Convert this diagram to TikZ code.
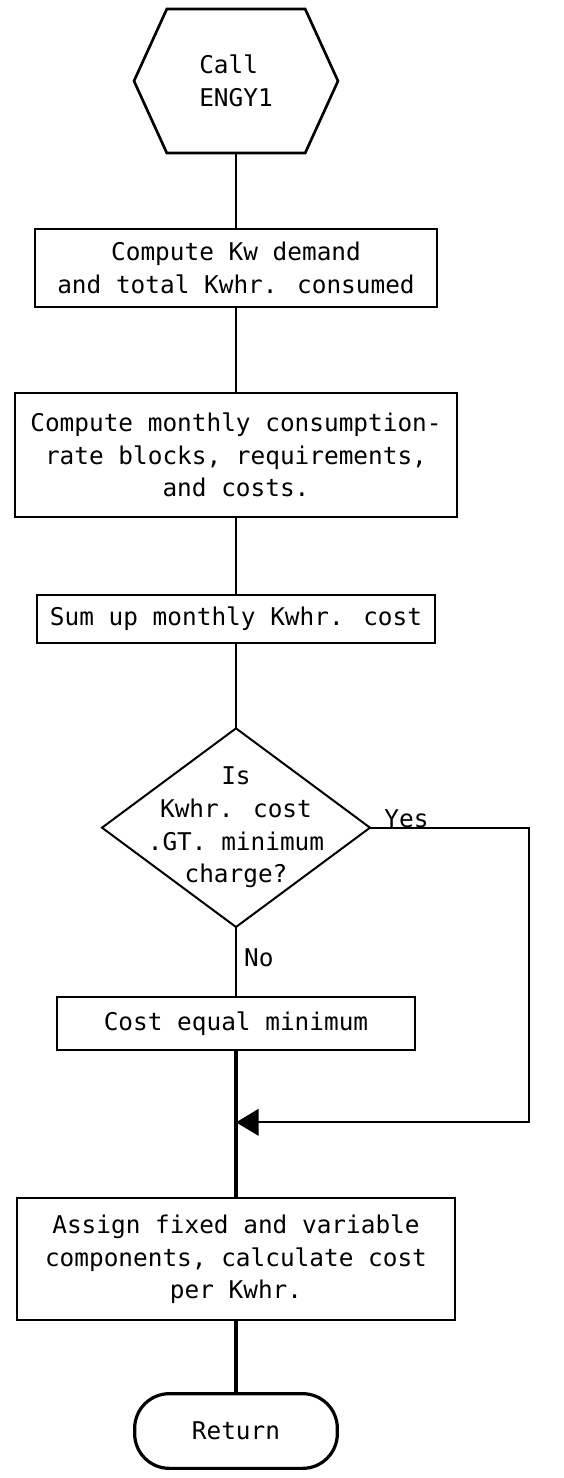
\documentclass[tikz,border=0pt]{standalone}
\usepackage{fontspec}
\newfontfamily\chartfont{DejaVu Sans Mono}
\usepackage{tikz}
\usetikzlibrary{arrows.meta,positioning,shapes.geometric,shapes.symbols}

\begin{document}
\begin{tikzpicture}[
  chart/.style={font=\chartfont\fontsize{18.3pt}{24.5pt}\selectfont},
  process/.style={chart, draw, line width=1.5pt, outer sep=0pt, align=center, inner sep=4pt},
  entry/.style={chart, draw, line width=2pt, outer sep=0pt, signal, signal to=west and east, signal pointer angle=131, minimum width=153pt, minimum height=108pt, align=left},
  decision/.style={chart, draw, line width=1.5pt, outer sep=0pt, diamond, aspect=1.35, inner sep=-30pt, minimum width=201pt, minimum height=149pt, align=center},
  terminal/.style={chart, draw, line width=2.4pt, outer sep=0pt, rounded corners=26pt, minimum width=152pt, minimum height=56pt},
  flow/.style={line width=1.5pt},
  trunk/.style={line width=2.6pt},
  arrow/.style={-{Triangle[length=17pt, width=20pt]}, line width=1.6pt}
]
  \useasboundingbox (-177pt,60.75pt) rectangle (246pt,-1047.75pt);

  \node[entry] (call) {Call\\ENGY1};
  \node[process, below=57pt of call, minimum width=302pt, minimum height=58.5pt] (demand) {Compute Kw demand\\and total Kwhr. consumed};
  \node[process, below=64.5pt of demand, minimum width=332pt, minimum height=93pt] (blocks) {Compute monthly consumption-\\rate blocks, requirements,\\and costs.};
  \node[process, below=58.5pt of blocks, minimum width=298.5pt, minimum height=36pt] (sumcost) {Sum up monthly Kwhr. cost};
  \node[decision, below=64pt of sumcost] (test) {Is\\Kwhr. cost\\.GT. minimum\\charge?};
  \node[process, below=52.5pt of test, minimum width=268pt, minimum height=40pt] (minimum) {Cost equal minimum};
  \node[process, below=111pt of minimum, minimum width=328.5pt, minimum height=91.5pt] (assign) {Assign fixed and variable\\components, calculate cost\\per Kwhr.};
  \node[terminal, below=55pt of assign] (return) {Return};

  \coordinate[right=119pt of test.east] (yesright);
  \coordinate[below=54pt of minimum.south] (merge);

  \draw[flow] (call) -- (demand);
  \draw[flow] (demand) -- (blocks);
  \draw[flow] (blocks) -- (sumcost);
  \draw[flow] (sumcost) -- (test);
  \draw[flow] (test) -- node[chart, right, pos=0.44, xshift=2pt] {No} (minimum);
  \draw[trunk] (minimum) -- (assign);
  \draw[trunk] (assign) -- (return);
  \draw[arrow] (test.east) -- node[chart, above, pos=0.23, inner sep=0pt, yshift=-1pt] {Yes} (yesright) |- (merge);
\end{tikzpicture}
\end{document}
